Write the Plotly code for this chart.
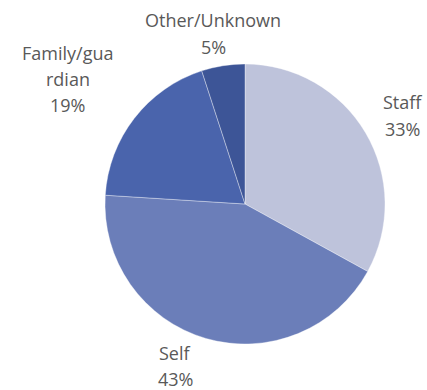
import plotly.graph_objects as go

# Who reported: share of reports by source (%)
categories = ["Staff", "Self", "Family/guardian", "Other/Unknown"]
shares = [33, 43, 19, 5]
colors = ["#BEC3DB", "#6B7EB9", "#4A64AC", "#3D5597"]

# Label text as laid out beside each slice (Family/guardian wraps mid-word)
label_lines = {"Family/guardian": ["Family/gua", "rdian"]}
# Label anchor in pixels: x centre, y of first line centre, line step
label_pos = {
    "Staff": (402, 101, 27),
    "Self": (175, 352, 26),
    "Family/guardian": (67.5, 52.5, 26),
    "Other/Unknown": (213, 18.5, 27),
}

W, H = 427, 390

fig = go.Figure(
    go.Pie(
        labels=categories,
        values=shares,
        sort=False,
        direction="clockwise",
        rotation=0,
        marker=dict(colors=colors, line=dict(color="rgba(255,255,255,0.35)", width=1)),
        textinfo="none",
        hoverinfo="label+percent",
        showlegend=False,
        domain=dict(x=[105 / W, 385 / W], y=[1 - 344 / H, 1 - 64 / H]),
    )
)

total = sum(shares)
annotations = []
for cat, val in zip(categories, shares):
    px, py, step = label_pos[cat]
    lines = label_lines.get(cat, [cat]) + [f"{round(100 * val / total)}%"]
    for i, line in enumerate(lines):
        annotations.append(
            dict(
                x=px / W,
                y=1 - (py + i * step + 1) / H,
                xref="paper",
                yref="paper",
                text=line,
                showarrow=False,
                xanchor="center",
                yanchor="middle",
                align="center",
                font=dict(family="Open Sans, sans-serif", size=18, color="#595959"),
            )
        )

fig.update_layout(
    width=W,
    height=H,
    margin=dict(l=0, r=0, t=0, b=0),
    paper_bgcolor="white",
    plot_bgcolor="white",
    annotations=annotations,
)

fig.write_html("out.html")
